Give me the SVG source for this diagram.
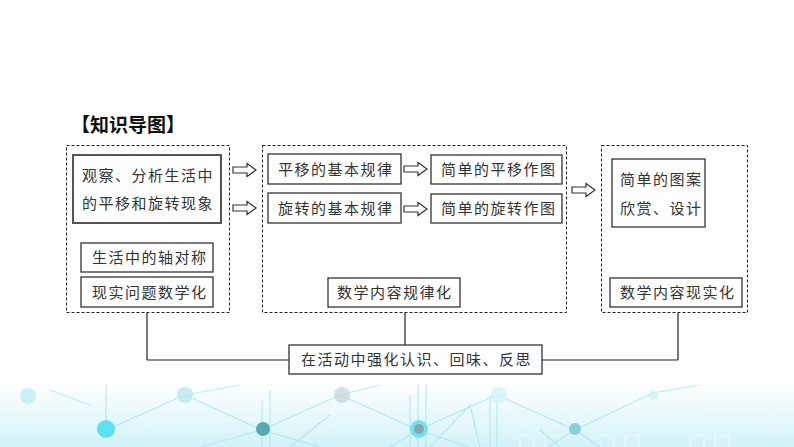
<svg xmlns="http://www.w3.org/2000/svg" width="794" height="447" viewBox="0 0 794 447">
<defs>
<style>
.t{font-family:"Noto Sans CJK SC","Noto Sans CJK JP",sans-serif;font-size:15px;fill:#333;letter-spacing:1.5px}
.box{fill:#fff;stroke:#333;stroke-width:1.3}
.dash{fill:none;stroke:#222;stroke-width:1;stroke-dasharray:3 2}
.arr{fill:#fff;stroke:#333;stroke-width:1.2;stroke-linejoin:miter}
.con{fill:none;stroke:#222;stroke-width:1.2}
.bgl{stroke:#9fe6f0;stroke-width:1.2;fill:none;opacity:0.7}
.sq{fill:none;stroke:#e4f7fa;stroke-width:1.5}
</style>
<linearGradient id="bg" x1="0" y1="0" x2="0" y2="1">
<stop offset="0" stop-color="#e6f8fb" stop-opacity="0"/>
<stop offset="0.5" stop-color="#e3f7fa" stop-opacity="0.8"/>
<stop offset="1" stop-color="#d2f2f7"/>
</linearGradient>
<polygon id="ha" points="0,-3 14,-3 14,-6.5 23,0 14,6.5 14,3 0,3"/>
</defs>
<rect width="794" height="447" fill="#fff"/>
<g id="background">
<rect x="0" y="382" width="794" height="65" fill="url(#bg)"/>
<g class="sq">
<rect x="145" y="415" width="10" height="10"/><rect x="170" y="415" width="10" height="10"/>
<rect x="300" y="415" width="10" height="10"/><rect x="325" y="415" width="10" height="10"/>
<rect x="520" y="412" width="14" height="14"/><rect x="545" y="412" width="14" height="14"/><rect x="570" y="412" width="14" height="14"/><rect x="595" y="412" width="14" height="14"/><rect x="620" y="412" width="14" height="14"/><rect x="645" y="412" width="14" height="14"/><rect x="670" y="412" width="14" height="14"/><rect x="695" y="412" width="14" height="14"/>
<rect x="520" y="435" width="14" height="14"/><rect x="545" y="435" width="14" height="14"/><rect x="600" y="435" width="14" height="14"/><rect x="625" y="435" width="14" height="14"/><rect x="690" y="435" width="14" height="14"/><rect x="715" y="435" width="14" height="14"/>
<rect x="775" y="415" width="14" height="14"/>
</g>
<g class="bgl">
<path d="M50,390 L90,405 M106,430 L185,395 L262,430 L320,447"/>
<path d="M106,385 V430 M262,400 V447 M270,390 V447"/>
<path d="M185,395 L240,385 M200,447 L262,430 L340,395 L418,430 L470,447"/>
<path d="M340,395 L380,385 M418,385 V447 M426,385 V447 M410,395 V447"/>
<path d="M390,447 L418,430 L497,395 L575,430 L600,447 M497,395 V447 M490,395 V447"/>
<path d="M575,430 L653,393 L700,385 M548,447 L575,430"/>
<path d="M290,447 L330,415 M430,447 L470,405 L480,447 M560,447 L540,430"/>
</g>
<g>
<circle cx="28" cy="396" r="8" fill="#bfeef4" opacity="0.8"/>
<circle cx="185" cy="395" r="8" fill="#b9e6ec" opacity="0.8"/>
<circle cx="342" cy="395" r="8" fill="#c9d8de" opacity="0.8"/>
<circle cx="499" cy="395" r="8" fill="#d2f3f8" opacity="0.8"/>
<circle cx="653" cy="395" r="5" fill="#d2f0f3" opacity="0.8"/>
<circle cx="106" cy="429" r="9" fill="#5ee0ef"/>
<circle cx="263" cy="429" r="7" fill="#5aa8b4"/>
<circle cx="419" cy="429" r="9" fill="#6fe3ef"/>
<circle cx="419" cy="429" r="5" fill="#8fa5ab"/>
<circle cx="575" cy="429" r="6" fill="#89ced8"/>
</g>
</g>
<text x="71" y="132" style="font-family:'Noto Sans CJK SC',sans-serif;font-size:19px;font-weight:bold;fill:#111">【知识导图】</text>
<g id="connectors">
<line class="con" x1="147" y1="313" x2="147" y2="360"/>
<line class="con" x1="147" y1="360" x2="289" y2="360"/>
<line class="con" x1="678" y1="313" x2="678" y2="360"/>
<line class="con" x1="542" y1="360" x2="678" y2="360"/>
<line class="con" x1="405" y1="313" x2="405" y2="345"/>
<use href="#ha" class="arr" x="233" y="170"/>
<use href="#ha" class="arr" x="233" y="208"/>
<use href="#ha" class="arr" x="404" y="169"/>
<use href="#ha" class="arr" x="404" y="209"/>
<use href="#ha" class="arr" x="572" y="190"/>
</g>
<g id="group-left">
<rect class="dash" x="66.5" y="145.5" width="163" height="167"/>
</g>
<g id="group-mid">
<rect class="dash" x="262.5" y="145.5" width="304" height="167"/>
</g>
<g id="group-right">
<rect class="dash" x="601.5" y="145.5" width="146" height="167"/>
</g>
<g id="n-observe">
<rect class="box" x="73" y="155" width="148" height="68" style="stroke:#555;stroke-width:2"/>
<text class="t" x="82" y="180.5">观察、分析生活中</text>
<text class="t" x="82" y="208.5">的平移和旋转现象</text>
</g>
<g id="n-axis">
<rect class="box" x="81" y="243" width="132" height="29"/>
<text class="t" x="92" y="263">生活中的轴对称</text>
</g>
<g id="n-real">
<rect class="box" x="81" y="277" width="132" height="30"/>
<text class="t" x="92" y="297.5">现实问题数学化</text>
</g>
<g id="n-trans-rule">
<rect class="box" x="268" y="154" width="133" height="30"/>
<text class="t" x="278" y="174.5">平移的基本规律</text>
</g>
<g id="n-rot-rule">
<rect class="box" x="268" y="193" width="133" height="30"/>
<text class="t" x="278" y="213.5">旋转的基本规律</text>
</g>
<g id="n-trans-draw">
<rect class="box" x="431" y="155" width="131" height="29"/>
<text class="t" x="441" y="174.5">简单的平移作图</text>
</g>
<g id="n-rot-draw">
<rect class="box" x="431" y="194" width="131" height="29"/>
<text class="t" x="441" y="213.5">简单的旋转作图</text>
</g>
<g id="n-law">
<rect class="box" x="328" y="278" width="132" height="29"/>
<text class="t" x="337" y="297.5">数学内容规律化</text>
</g>
<g id="n-pattern">
<rect class="box" x="612" y="159" width="93" height="68"/>
<text class="t" x="620" y="184.5">简单的图案</text>
<text class="t" x="620" y="213.5">欣赏、设计</text>
</g>
<g id="n-realize">
<rect class="box" x="610" y="278" width="132" height="29"/>
<text class="t" x="620" y="297.5">数学内容现实化</text>
</g>
<g id="n-reflect">
<rect class="box" x="289" y="345" width="253" height="29"/>
<text class="t" x="301" y="365">在活动中强化认识、回味、反思</text>
</g>
</svg>
